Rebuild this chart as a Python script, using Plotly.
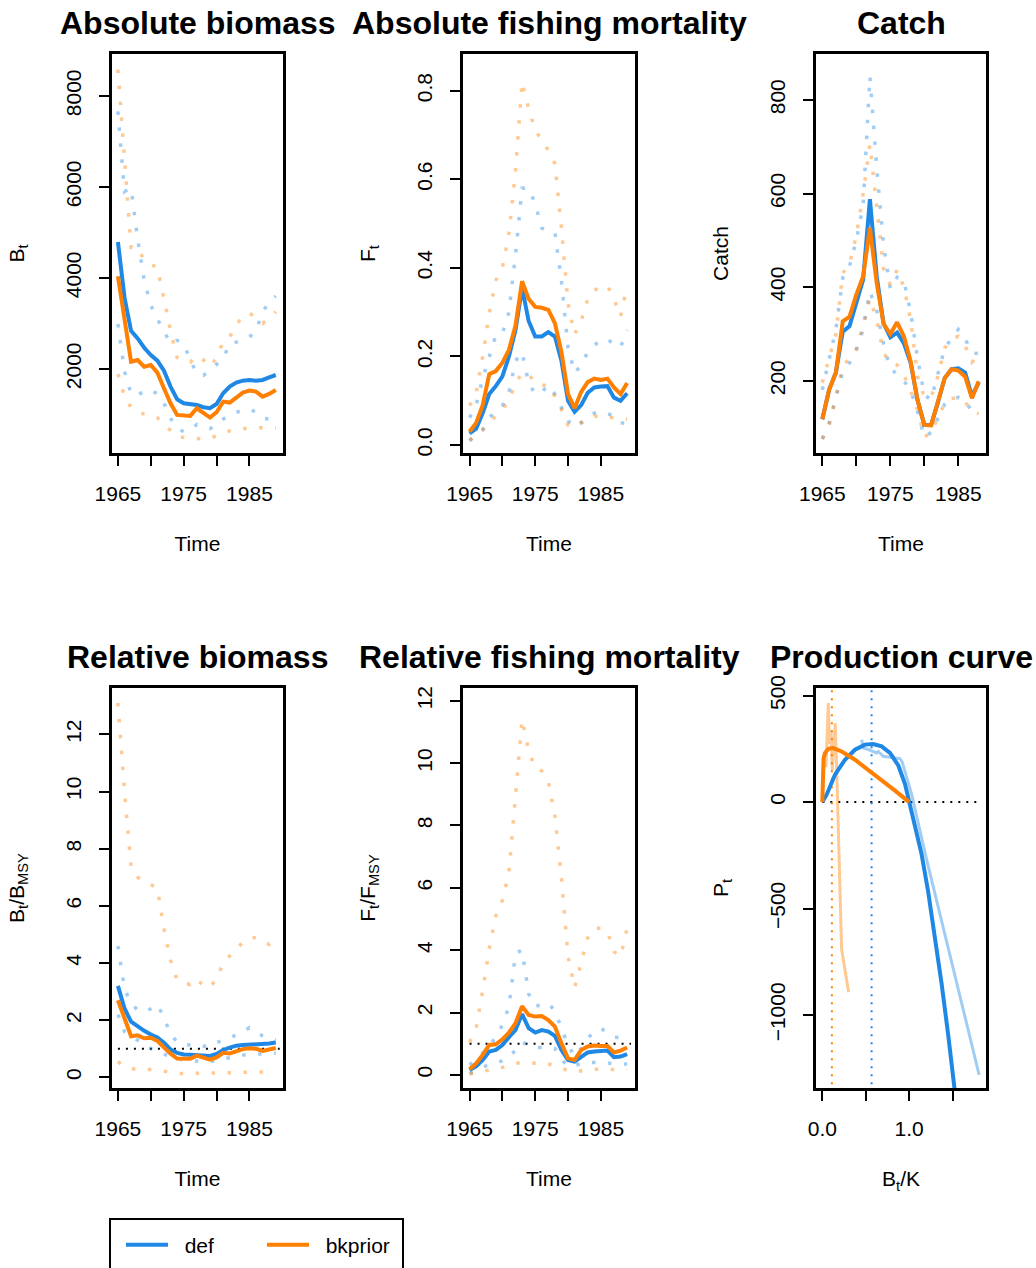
import plotly.graph_objects as go
from plotly.subplots import make_subplots

# ---------------- data ----------------
years = list(range(1965, 1990))
catch_years = list(range(1965, 1989))

# Absolute biomass
B_def = [4793, 3570, 2840, 2672, 2468, 2307, 2183, 1963, 1613, 1335, 1247, 1232, 1210, 1160, 1137, 1232, 1466, 1613, 1700, 1744, 1759, 1744, 1759, 1817, 1868]
B_bk = [4040, 3133, 2160, 2197, 2050, 2088, 1920, 1576, 1247, 991, 970, 970, 1137, 1028, 933, 1050, 1284, 1262, 1379, 1481, 1525, 1503, 1393, 1452, 1540]
B_def_hi = [7660, 5900, 5980, 4850, 3950, 3400, 3100, 2840, 2560, 2630, 2560, 2200, 1900, 1860, 1990, 2100, 2220, 2570, 2590, 2640, 2700, 2850, 3250, 3480, 3600]
B_def_lo = [2987, 1950, 1450, 1420, 1520, 1540, 1450, 1250, 920, 700, 620, 660, 780, 740, 690, 770, 900, 980, 1050, 1090, 1120, 1050, 920, 900, 930]
B_bk_hi = [8580, 6500, 4670, 4660, 4400, 4300, 4230, 3550, 2840, 2250, 2170, 2146, 2290, 2200, 2050, 2240, 2600, 2700, 2980, 3150, 3230, 3120, 3000, 3120, 3260]
B_bk_lo = [1890, 1400, 1150, 1055, 1010, 980, 930, 780, 650, 510, 500, 494, 470, 460, 480, 530, 590, 640, 662, 690, 710, 713, 708, 700, 700]

# Absolute fishing mortality
F_def = [0.026, 0.037, 0.072, 0.115, 0.133, 0.155, 0.2, 0.26, 0.355, 0.28, 0.245, 0.245, 0.255, 0.245, 0.19, 0.10, 0.075, 0.09, 0.118, 0.13, 0.132, 0.133, 0.107, 0.10, 0.117]
F_bk = [0.03, 0.05, 0.09, 0.16, 0.167, 0.186, 0.215, 0.27, 0.37, 0.33, 0.312, 0.31, 0.305, 0.275, 0.21, 0.115, 0.083, 0.12, 0.142, 0.15, 0.147, 0.15, 0.13, 0.115, 0.14]
F_def_hi = [0.062, 0.09, 0.15, 0.2, 0.248, 0.252, 0.3, 0.43, 0.58, 0.58, 0.545, 0.49, 0.485, 0.48, 0.37, 0.22, 0.163, 0.18, 0.21, 0.226, 0.235, 0.24, 0.226, 0.221, 0.26]
F_def_lo = [0.01, 0.022, 0.034, 0.062, 0.075, 0.089, 0.119, 0.19, 0.21, 0.14, 0.115, 0.12, 0.135, 0.115, 0.085, 0.055, 0.04, 0.05, 0.06, 0.072, 0.075, 0.07, 0.066, 0.05, 0.05]
F_bk_hi = [0.089, 0.117, 0.2, 0.297, 0.372, 0.4, 0.478, 0.62, 0.82, 0.76, 0.71, 0.69, 0.665, 0.635, 0.49, 0.32, 0.25, 0.28, 0.33, 0.35, 0.355, 0.36, 0.33, 0.29, 0.36]
F_bk_lo = [0.01, 0.025, 0.035, 0.05, 0.065, 0.081, 0.1, 0.14, 0.162, 0.16, 0.14, 0.135, 0.135, 0.11, 0.08, 0.045, 0.04, 0.05, 0.055, 0.065, 0.065, 0.063, 0.062, 0.06, 0.058]

# Catch
C_def = [118, 181, 218, 305, 317, 366, 416, 588, 423, 323, 293, 303, 280, 238, 159, 106, 106, 154, 206, 225, 227, 218, 167, 197]
C_bk = [118, 181, 218, 327, 337, 384, 423, 527, 409, 322, 300, 325, 295, 241, 159, 106, 105, 156, 206, 225, 222, 209, 163, 199]
C_def_hi = [181, 250, 310, 420, 445, 500, 575, 850, 655, 490, 396, 421, 414, 346, 250, 170, 160, 215, 270, 290, 310, 290, 260, 258]
C_def_lo = [76, 110, 165, 220, 238, 265, 310, 391, 350, 280, 225, 215, 200, 180, 135, 80, 90, 120, 150, 160, 165, 160, 133, 135]
C_bk_hi = [196, 245, 300, 430, 450, 510, 600, 705, 567, 440, 405, 437, 400, 330, 210, 165, 165, 210, 270, 290, 295, 275, 240, 255]
C_bk_lo = [76, 105, 165, 230, 250, 268, 320, 376, 330, 260, 238, 234, 213, 178, 138, 80, 90, 122, 153, 162, 165, 155, 135, 130]

# Relative biomass
BB_def = [3.2, 2.41, 1.95, 1.77, 1.63, 1.5, 1.4, 1.21, 0.98, 0.86, 0.8, 0.79, 0.78, 0.75, 0.75, 0.82, 0.96, 1.04, 1.11, 1.13, 1.14, 1.14, 1.17, 1.19, 1.22]
BB_bk = [2.7, 2.1, 1.44, 1.47, 1.37, 1.39, 1.28, 1.05, 0.83, 0.66, 0.65, 0.65, 0.76, 0.69, 0.62, 0.7, 0.86, 0.84, 0.92, 0.99, 1.02, 1.0, 0.93, 0.97, 1.03]
BB_def_hi = [4.6, 3.1, 2.6, 2.35, 2.3, 2.4, 2.55, 2.1, 1.5, 1.25, 1.12, 1.13, 1.17, 1.1, 1.07, 1.22, 1.3, 1.4, 1.48, 1.6, 1.74, 1.6, 1.45, 1.35, 1.3]
BB_def_lo = [2.2, 1.6, 1.45, 1.3, 1.1, 1.0, 0.9, 0.83, 0.72, 0.65, 0.6, 0.58, 0.57, 0.56, 0.55, 0.6, 0.65, 0.7, 0.75, 0.78, 0.8, 0.82, 0.82, 0.83, 0.85]
BB_bk_hi = [13.1, 10.0, 7.35, 7.0, 6.85, 6.75, 6.6, 5.2, 4.1, 3.4, 3.3, 3.25, 3.45, 3.2, 3.15, 3.45, 4.0, 4.25, 4.45, 4.75, 4.85, 4.9, 4.75, 4.65, 4.9]
BB_bk_lo = [0.55, 0.38, 0.3, 0.29, 0.28, 0.28, 0.27, 0.22, 0.17, 0.14, 0.14, 0.14, 0.14, 0.14, 0.14, 0.14, 0.15, 0.16, 0.17, 0.18, 0.19, 0.19, 0.19, 0.19, 0.19]

# Relative fishing mortality
FF_def = [0.16, 0.27, 0.48, 0.75, 0.8, 0.96, 1.21, 1.44, 1.95, 1.5, 1.36, 1.44, 1.39, 1.25, 0.8, 0.48, 0.43, 0.57, 0.72, 0.75, 0.75, 0.78, 0.57, 0.59, 0.67]
FF_bk = [0.18, 0.37, 0.64, 0.96, 0.98, 1.14, 1.36, 1.66, 2.2, 1.92, 1.87, 1.89, 1.76, 1.55, 1.01, 0.53, 0.48, 0.8, 0.91, 0.94, 0.93, 0.93, 0.72, 0.78, 0.88]
FF_def_hi = [0.32, 0.5, 0.7, 0.95, 1.2, 1.6, 2.2, 3.9, 4.0, 2.6, 2.2, 2.25, 2.3, 2.05, 1.5, 0.95, 0.6, 0.85, 1.2, 1.35, 1.5, 1.35, 1.21, 1.2, 1.05]
FF_def_lo = [0.05, 0.12, 0.25, 0.33, 0.4, 0.45, 0.55, 0.8, 1.05, 0.95, 0.88, 0.88, 0.9, 0.85, 0.5, 0.27, 0.3, 0.37, 0.4, 0.4, 0.4, 0.38, 0.36, 0.35, 0.35]
FF_bk_hi = [1.05, 1.5, 2.7, 4.04, 5.1, 5.6, 6.5, 9.0, 11.4, 10.4, 9.85, 9.75, 9.4, 8.3, 6.3, 3.8, 2.8, 3.6, 4.4, 4.7, 4.7, 4.6, 3.95, 3.8, 4.7]
FF_bk_lo = [0.03, 0.07, 0.11, 0.15, 0.2, 0.24, 0.3, 0.37, 0.4, 0.38, 0.37, 0.36, 0.35, 0.3, 0.22, 0.13, 0.1, 0.13, 0.16, 0.18, 0.18, 0.18, 0.17, 0.16, 0.17]

# Reference line (ratio = 1) extent
ref_time = [1965, 1989.6]
ref_one = [1, 1]

# Production curve
prod_def_x = [0, 0.05, 0.146, 0.261, 0.376, 0.491, 0.587, 0.683, 0.779, 0.875, 0.952, 1.0, 1.065, 1.142, 1.218, 1.295, 1.372, 1.448, 1.525, 1.56]
prod_def_y = [0, 35, 129, 199, 246, 270, 273, 262, 231, 172, 85, 0, -102, -243, -420, -630, -850, -1090, -1342, -1480]
prod_bk_x = [0, 0.002, 0.006, 0.015, 0.03, 0.069, 0.127, 0.223, 0.376, 0.53, 0.683, 0.837, 1.0]
prod_bk_y = [0, 90, 160, 205, 230, 250, 254, 238, 199, 152, 106, 54, 0]
path_def_x = [0.453, 0.472, 0.53, 0.626, 0.645, 0.702, 0.798, 0.894, 0.92, 0.971, 1.029, 1.2, 1.352, 1.506, 1.659, 1.805]
path_def_y = [293, 254, 247, 231, 238, 215, 210, 204, 188, 113, 35, -269, -525, -781, -1038, -1281]
path_bk_x = [0.042, 0.069, 0.084, 0.1, 0.115, 0.134, 0.149, 0.165, 0.18, 0.2, 0.222, 0.303]
path_bk_y = [164, 465, 274, 337, 149, 258, 371, 164, -100, -400, -690, -893]
bmsyk_def = 0.567
bmsyk_bk = 0.11
zero_x = [0, 1.84]
zero_y = [0, 0]

# ---------------- style ----------------
BLUE = "#1f88e5"
ORANGE = "#ff7f00"
BLUE_L = "rgba(31,136,229,0.42)"
ORANGE_L = "rgba(255,127,0,0.42)"
FONT = "Liberation Sans, Arial, Helvetica, sans-serif"
CI_DASH = "3.5px,12.5px"
REF_DASH = "2px,6px"
NB = "\u00a0"

W, H = 1036, 1268
fig = make_subplots(rows=2, cols=3)

def add_ts(row, col, t, est_d, est_b, hi_d, lo_d, hi_b, lo_b, legend=False):
    for arr, c in [(hi_d, BLUE_L), (lo_d, BLUE_L), (hi_b, ORANGE_L), (lo_b, ORANGE_L)]:
        fig.add_trace(go.Scatter(x=t, y=arr, mode="lines", showlegend=False, hoverinfo="skip",
                                 line=dict(color=c, width=3.5, dash=CI_DASH)), row=row, col=col)
    fig.add_trace(go.Scatter(x=t, y=est_d, mode="lines", name=NB + NB + "def", showlegend=legend,
                             line=dict(color=BLUE, width=4)), row=row, col=col)
    fig.add_trace(go.Scatter(x=t, y=est_b, mode="lines", name=NB + NB + "bkprior", showlegend=legend,
                             line=dict(color=ORANGE, width=4)), row=row, col=col)

add_ts(1, 1, years, B_def, B_bk, B_def_hi, B_def_lo, B_bk_hi, B_bk_lo, legend=True)
add_ts(1, 2, years, F_def, F_bk, F_def_hi, F_def_lo, F_bk_hi, F_bk_lo)
add_ts(1, 3, catch_years, C_def, C_bk, C_def_hi, C_def_lo, C_bk_hi, C_bk_lo)

fig.add_trace(go.Scatter(x=ref_time, y=ref_one, mode="lines", showlegend=False,
                         line=dict(color="black", width=2, dash=REF_DASH)), row=2, col=1)
add_ts(2, 1, years, BB_def, BB_bk, BB_def_hi, BB_def_lo, BB_bk_hi, BB_bk_lo)
fig.add_trace(go.Scatter(x=ref_time, y=ref_one, mode="lines", showlegend=False,
                         line=dict(color="black", width=2, dash=REF_DASH)), row=2, col=2)
add_ts(2, 2, years, FF_def, FF_bk, FF_def_hi, FF_def_lo, FF_bk_hi, FF_bk_lo)

# production panel
fig.add_trace(go.Scatter(x=zero_x, y=zero_y, mode="lines", showlegend=False,
                         line=dict(color="black", width=2, dash=REF_DASH)), row=2, col=3)
fig.add_trace(go.Scatter(x=[bmsyk_bk, bmsyk_bk], y=[-1400, 600], mode="lines", showlegend=False,
                         line=dict(color=ORANGE, width=2, dash=REF_DASH)), row=2, col=3)
fig.add_trace(go.Scatter(x=[bmsyk_def, bmsyk_def], y=[-1400, 600], mode="lines", showlegend=False,
                         line=dict(color=BLUE, width=2, dash=REF_DASH)), row=2, col=3)
fig.add_trace(go.Scatter(x=path_def_x, y=path_def_y, mode="lines", showlegend=False,
                         line=dict(color=BLUE_L, width=3)), row=2, col=3)
fig.add_trace(go.Scatter(x=path_bk_x, y=path_bk_y, mode="lines", showlegend=False,
                         line=dict(color=ORANGE_L, width=3)), row=2, col=3)
fig.add_trace(go.Scatter(x=prod_def_x, y=prod_def_y, mode="lines", showlegend=False,
                         line=dict(color=BLUE, width=4)), row=2, col=3)
fig.add_trace(go.Scatter(x=prod_bk_x, y=prod_bk_y, mode="lines", showlegend=False,
                         line=dict(color=ORANGE, width=4)), row=2, col=3)

# ---------------- layout ----------------
colx = [(112, 283), (463, 635), (816, 986)]
rowy = [(54, 453), (688, 1088)]

def xd(a, b):
    return [a / W, b / W]

def yd(a, b):
    return [1 - b / H, 1 - a / H]

year_major = [1965, 1975, 1985]
year_minor = [1970, 1980]

panels = [
    # row, col, xrange, yrange, ytickvals, yticktext, ytitle, xtitle, xmajor, xminor, xticktext
    (1, 1, [1964.1, 1990.1], [154, 8923], [2000, 4000, 6000, 8000], None, "B<sub>t</sub>", "Time", year_major, year_minor, None),
    (1, 2, [1964.0, 1990.2], [-0.018, 0.883], [0, 0.2, 0.4, 0.6, 0.8], ["0.0", "0.2", "0.4", "0.6", "0.8"], "F<sub>t</sub>", "Time", year_major, year_minor, None),
    (1, 3, [1964.07, 1989.07], [46, 898], [200, 400, 600, 800], None, "Catch", "Time", year_major, year_minor, None),
    (2, 1, [1964.1, 1990.1], [-0.37, 13.62], [0, 2, 4, 6, 8, 10, 12], None, "B<sub>t</sub>/B<sub>MSY</sub>", "Time", year_major, year_minor, None),
    (2, 2, [1964.0, 1990.2], [-0.42, 12.41], [0, 2, 4, 6, 8, 10, 12], None, "F<sub>t</sub>/F<sub>MSY</sub>", "Time", year_major, year_minor, None),
    (2, 3, [-0.0725, 1.884], [-1343, 536], [-1000, -500, 0, 500], None, "P<sub>t</sub>", "B<sub>t</sub>/K", [0, 1.0], [0.5, 1.5], ["0.0", "1.0"]),
]

axis_common = dict(showline=True, mirror=True, linewidth=2.6, linecolor="black",
                   ticks="outside", ticklen=10, tickwidth=2, tickcolor="black", automargin=False,
                   showgrid=False, zeroline=False, tickfont=dict(size=21, color="black", family=FONT))

for (r, c, xr, yr, ytv, ytt, ytitle, xtitle, xmaj, xmin, xtt) in panels:
    x0, x1 = colx[c - 1]
    y0, y1 = rowy[r - 1]
    xk = dict(tickvals=xmaj)
    if xtt is not None:
        xk["ticktext"] = xtt
    fig.update_xaxes(domain=xd(x0, x1), range=xr, **xk, **axis_common,
                     minor=dict(tickvals=xmin, ticks="outside", ticklen=10, tickwidth=2,
                                tickcolor="black", showgrid=False),
                     ticklabelstandoff=10,
                     title=dict(text=xtitle, font=dict(size=21, color="black", family=FONT), standoff=33),
                     row=r, col=c)
    yk = dict(tickvals=ytv)
    if ytt is not None:
        yk["ticktext"] = ytt
    fig.update_yaxes(domain=yd(y0, y1), range=yr, **yk, **axis_common, tickangle=-90,
                     ticklabelstandoff=10,
                     title=dict(text=ytitle, font=dict(size=21, color="black", family=FONT), standoff=32),
                     row=r, col=c)

titles = [("Absolute biomass", 0, 0), ("Absolute fishing mortality", 1, 0), ("Catch", 2, 0),
          ("Relative biomass", 0, 1), ("Relative fishing mortality", 1, 1), ("Production curve", 2, 1)]
title_y = [23, 657]
annotations = []
for txt, ci, ri in titles:
    x0, x1 = colx[ci]
    annotations.append(dict(text="<b>" + txt + "</b>", x=(x0 + x1) / 2 / W, y=1 - title_y[ri] / H,
                            xref="paper", yref="paper", xanchor="center", yanchor="middle",
                            showarrow=False, font=dict(size=32, color="black", family=FONT)))

fig.update_layout(
    template="none",
    width=W, height=H, margin=dict(l=0, r=0, t=0, b=0, pad=0, autoexpand=False),
    paper_bgcolor="white", plot_bgcolor="white",
    font=dict(family=FONT, color="black"),
    annotations=annotations,
    showlegend=True,
    legend=dict(orientation="h", x=121 / W, y=1 - 1245 / H, xanchor="left", yanchor="middle",
                font=dict(size=21, color="black", family=FONT), borderwidth=0,
                bgcolor="rgba(0,0,0,0)", itemwidth=42, entrywidth=84, entrywidthmode="pixels"),
    shapes=[dict(type="rect", xref="paper", yref="paper", x0=110 / W, x1=403 / W,
                 y0=-0.05, y1=1 - 1219 / H, line=dict(color="black", width=2))],
)

fig.write_html("out.html", config={"displayModeBar": False},
               post_script="document.body.style.margin='0px';")
